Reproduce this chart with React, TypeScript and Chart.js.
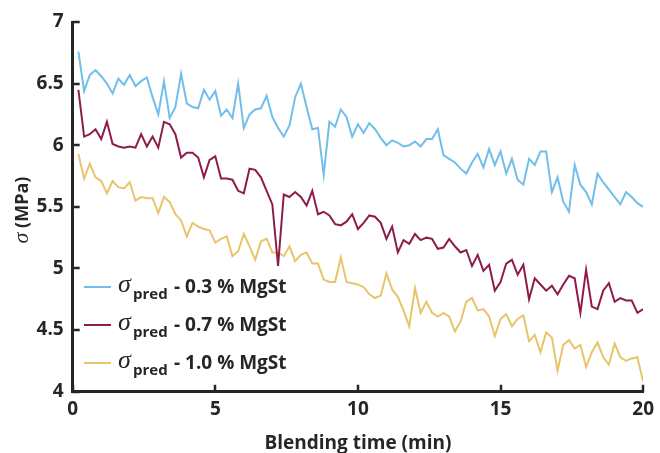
import React, { useEffect, useRef } from "react";
import { Chart, registerables } from "chart.js";

Chart.register(...registerables);

const TIME = [
  0.2, 0.4, 0.6, 0.8, 1.0, 1.2, 1.4, 1.6, 1.8, 2.0,
  2.2, 2.4, 2.6, 2.8, 3.0, 3.2, 3.4, 3.6, 3.8, 4.0,
  4.2, 4.4, 4.6, 4.8, 5.0, 5.2, 5.4, 5.6, 5.8, 6.0,
  6.2, 6.4, 6.6, 6.8, 7.0, 7.2, 7.4, 7.6, 7.8, 8.0,
  8.2, 8.4, 8.6, 8.8, 9.0, 9.2, 9.4, 9.6, 9.8, 10.0,
  10.2, 10.4, 10.6, 10.8, 11.0, 11.2, 11.4, 11.6, 11.8, 12.0,
  12.2, 12.4, 12.6, 12.8, 13.0, 13.2, 13.4, 13.6, 13.8, 14.0,
  14.2, 14.4, 14.6, 14.8, 15.0, 15.2, 15.4, 15.6, 15.8, 16.0,
  16.2, 16.4, 16.6, 16.8, 17.0, 17.2, 17.4, 17.6, 17.8, 18.0,
  18.2, 18.4, 18.6, 18.8, 19.0, 19.2, 19.4, 19.6, 19.8, 20.0,
];

const MGST_03 = [
  6.76, 6.44, 6.57, 6.61, 6.56, 6.50, 6.42, 6.54, 6.49, 6.57,
  6.48, 6.52, 6.55, 6.39, 6.25, 6.52, 6.22, 6.31, 6.58, 6.34,
  6.31, 6.30, 6.45, 6.37, 6.44, 6.24, 6.29, 6.22, 6.50, 6.14,
  6.25, 6.29, 6.30, 6.40, 6.23, 6.14, 6.07, 6.16, 6.39, 6.50,
  6.31, 6.13, 6.14, 5.76, 6.19, 6.15, 6.29, 6.23, 6.07, 6.17,
  6.10, 6.18, 6.13, 6.06, 6.00, 6.04, 6.02, 5.99, 6.00, 6.03,
  5.99, 6.05, 6.05, 6.13, 5.92, 5.89, 5.86, 5.81, 5.77, 5.86,
  5.93, 5.82, 5.97, 5.84, 5.95, 5.77, 5.89, 5.72, 5.68, 5.89,
  5.84, 5.95, 5.95, 5.62, 5.74, 5.54, 5.46, 5.84, 5.68, 5.62,
  5.52, 5.77, 5.70, 5.64, 5.58, 5.52, 5.62, 5.58, 5.53, 5.50,
];

const MGST_07 = [
  6.45, 6.07, 6.09, 6.13, 6.05, 6.19, 6.01, 5.99, 5.98, 5.99,
  5.98, 6.09, 5.99, 6.07, 5.98, 6.19, 6.17, 6.09, 5.90, 5.94,
  5.94, 5.90, 5.74, 5.88, 5.91, 5.73, 5.73, 5.72, 5.63, 5.61,
  5.81, 5.80, 5.74, 5.63, 5.52, 5.02, 5.60, 5.58, 5.62, 5.58,
  5.51, 5.63, 5.44, 5.46, 5.43, 5.36, 5.35, 5.38, 5.44, 5.32,
  5.37, 5.43, 5.42, 5.37, 5.24, 5.34, 5.13, 5.23, 5.20, 5.28,
  5.23, 5.25, 5.24, 5.16, 5.17, 5.24, 5.18, 5.13, 5.15, 5.02,
  5.11, 4.98, 5.03, 4.82, 4.89, 5.04, 5.07, 4.95, 5.03, 4.75,
  4.92, 4.87, 4.82, 4.86, 4.79, 4.87, 4.94, 4.92, 4.64, 4.99,
  4.69, 4.67, 4.82, 4.88, 4.73, 4.76, 4.74, 4.74, 4.64, 4.67,
];

const MGST_10 = [
  5.93, 5.73, 5.85, 5.74, 5.71, 5.61, 5.71, 5.66, 5.65, 5.70,
  5.55, 5.58, 5.57, 5.57, 5.45, 5.58, 5.54, 5.44, 5.39, 5.26,
  5.37, 5.34, 5.32, 5.31, 5.21, 5.24, 5.26, 5.10, 5.14, 5.28,
  5.18, 5.07, 5.22, 5.24, 5.13, 5.13, 5.10, 5.18, 5.06, 5.11,
  5.13, 5.04, 5.04, 4.91, 4.89, 4.89, 5.09, 4.89, 4.88, 4.87,
  4.85, 4.79, 4.76, 4.78, 4.96, 4.83, 4.77, 4.66, 4.53, 4.84,
  4.64, 4.73, 4.64, 4.61, 4.64, 4.61, 4.49, 4.57, 4.73, 4.76,
  4.66, 4.67, 4.61, 4.45, 4.59, 4.63, 4.53, 4.59, 4.62, 4.41,
  4.46, 4.32, 4.48, 4.44, 4.17, 4.38, 4.42, 4.35, 4.38, 4.20,
  4.32, 4.40, 4.28, 4.22, 4.39, 4.28, 4.25, 4.27, 4.28, 4.08,
];

const SERIES_LABELS = ["0.3 % MgSt", "0.7 % MgSt", "1.0 % MgSt"];
const SERIES_COLORS = ["#72BEEA", "#8C1C4C", "#E8C56C"];
const X_TICKS = [0, 5, 10, 15, 20];
const Y_TICKS = [4, 4.5, 5, 5.5, 6, 6.5, 7];
const X_TITLE = "Blending time (min)";
const Y_TITLE = "(MPa)";
const SIGMA = "\u03C3";
const SUB = "pred";

const AXIS_COLOR = "#262626";
const SANS = '"Open Sans", "DejaVu Sans", sans-serif';
const SERIF = '"Liberation Serif", "DejaVu Serif", serif';

const decorPlugin = {
  id: "decor",
  afterDraw(chart: any) {
    const ctx = chart.ctx as CanvasRenderingContext2D;
    const xs = chart.scales.x;
    const ys = chart.scales.y;
    const area = chart.chartArea;
    ctx.save();
    // inward tick marks
    ctx.strokeStyle = AXIS_COLOR;
    ctx.lineWidth = 2.5;
    ctx.beginPath();
    X_TICKS.forEach((v) => {
      const px = Math.round(xs.getPixelForValue(v));
      ctx.moveTo(px, area.bottom);
      ctx.lineTo(px, area.bottom - 7);
    });
    Y_TICKS.forEach((v) => {
      const py = Math.round(ys.getPixelForValue(v));
      ctx.moveTo(area.left, py);
      ctx.lineTo(area.left + 7, py);
    });
    ctx.stroke();

    // y title
    ctx.save();
    ctx.translate(28, 210);
    ctx.rotate(-Math.PI / 2);
    ctx.fillStyle = AXIS_COLOR;
    ctx.textBaseline = "alphabetic";
    const sigFont = "italic 22px " + SERIF;
    const titleFont = "bold 18px " + SANS;
    ctx.font = sigFont;
    const sw = ctx.measureText(SIGMA).width;
    ctx.font = titleFont;
    const tw = ctx.measureText(" " + Y_TITLE).width;
    const start = -(sw + tw) / 2;
    ctx.font = sigFont;
    ctx.fillText(SIGMA, start, 0);
    ctx.font = titleFont;
    ctx.fillText(" " + Y_TITLE, start + sw, 0);
    ctx.restore();

    // legend
    const rows = [287, 325, 363];
    SERIES_LABELS.forEach((label, i) => {
      const y = rows[i];
      ctx.strokeStyle = SERIES_COLORS[i];
      ctx.lineWidth = 2;
      ctx.beginPath();
      ctx.moveTo(84, y);
      ctx.lineTo(111, y);
      ctx.stroke();
      ctx.fillStyle = AXIS_COLOR;
      ctx.textBaseline = "alphabetic";
      ctx.font = "italic 26px " + SERIF;
      ctx.fillText(SIGMA, 118, y + 5);
      ctx.font = "bold 15px " + SANS;
      ctx.fillText(SUB, 133, y + 12);
      ctx.font = "bold 19px " + SANS;
      ctx.fillText("- " + label, 174, y + 6);
    });
    ctx.restore();
  },
};

export default function App() {
  const ref = useRef<HTMLCanvasElement | null>(null);
  useEffect(() => {
    document.body.style.margin = "0";
    const canvas = ref.current;
    if (!canvas) return;
    const mk = (vals: number[], i: number) => ({
      label: SERIES_LABELS[i],
      data: TIME.map((t, k) => ({ x: t, y: vals[k] })),
      borderColor: SERIES_COLORS[i],
      backgroundColor: SERIES_COLORS[i],
      borderWidth: 2,
      pointRadius: 0,
      tension: 0,
      fill: false,
    });
    const chart = new Chart(canvas, {
      type: "line",
      data: {
        datasets: [mk(MGST_03, 0), mk(MGST_07, 1), mk(MGST_10, 2)],
      },
      plugins: [decorPlugin],
      options: {
        responsive: false,
        animation: false,
        events: [],
        layout: { padding: { top: 22, right: 12.7, left: 0, bottom: 0 } },
        plugins: {
          legend: { display: false },
          tooltip: { enabled: false },
        },
        scales: {
          x: {
            type: "linear",
            min: 0,
            max: 20,
            afterBuildTicks: (s: any) => {
              s.ticks = X_TICKS.map((v) => ({ value: v }));
            },
            ticks: {
              color: AXIS_COLOR,
              font: { family: SANS, size: 19, weight: "bold" },
              padding: 6,
              maxRotation: 0,
              callback: (v: any) => String(v),
            },
            grid: { display: false, drawTicks: false, tickLength: 0 },
            border: { display: true, width: 3, color: AXIS_COLOR },
            title: {
              display: true,
              text: X_TITLE,
              color: AXIS_COLOR,
              font: { family: SANS, size: 19, weight: "bold" },
              padding: { top: 0, bottom: -2 },
            },
            afterFit: (s: any) => {
              s.height = 61.3;
            },
          },
          y: {
            type: "linear",
            min: 4,
            max: 7,
            afterBuildTicks: (s: any) => {
              s.ticks = Y_TICKS.map((v) => ({ value: v }));
            },
            ticks: {
              color: AXIS_COLOR,
              font: { family: SANS, size: 19, weight: "bold" },
              padding: 9,
              callback: (v: any) => String(v),
            },
            grid: { display: false, drawTicks: false, tickLength: 0 },
            border: { display: true, width: 3, color: AXIS_COLOR },
            afterFit: (s: any) => {
              s.width = 72.7;
            },
          },
        },
      },
    } as any);
    return () => chart.destroy();
  }, []);
  return (
    <div style={{ position: "absolute", left: 0, top: 0, width: 660, height: 453 }}>
      <canvas ref={ref} width={660} height={453} />
    </div>
  );
}
